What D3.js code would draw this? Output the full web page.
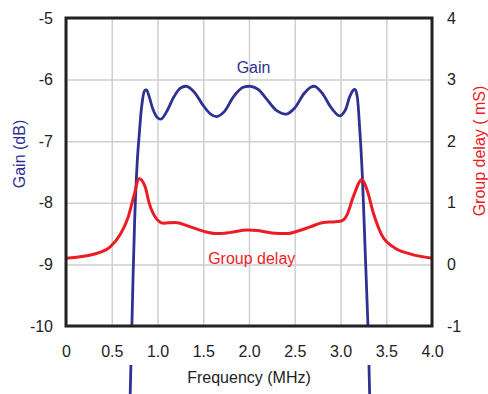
<!DOCTYPE html>
<html>
<head>
<meta charset="utf-8">
<script src="https://cdn.jsdelivr.net/npm/d3@7"></script>
<style>
  body { margin: 0; background: #fff; }
  svg { display: block; font-family: "Liberation Sans", Arial, sans-serif; }
</style>
</head>
<body>
<svg id="chart" width="488" height="394"></svg>
<script>
// gain curve (MHz, dB)
const gainFreq = [0.70, 0.72, 0.75, 0.78, 0.80, 0.83, 0.86, 0.88, 0.91, 0.95, 1.00, 1.04, 1.10, 1.18, 1.25, 1.32, 1.40, 1.50, 1.58, 1.65, 1.73, 1.83, 1.93, 2.02, 2.10, 2.20, 2.30, 2.41, 2.50, 2.60, 2.68, 2.72, 2.80, 2.90, 2.99, 3.05, 3.10, 3.14, 3.16, 3.18, 3.21, 3.24, 3.27, 3.30, 3.32];
const gainDb = [-11.2, -10.0, -8.3, -7.3, -6.9, -6.4, -6.18, -6.17, -6.28, -6.48, -6.62, -6.64, -6.52, -6.28, -6.14, -6.11, -6.2, -6.42, -6.56, -6.60, -6.52, -6.28, -6.13, -6.11, -6.16, -6.33, -6.50, -6.56, -6.46, -6.23, -6.12, -6.11, -6.22, -6.46, -6.59, -6.5, -6.28, -6.17, -6.16, -6.25, -6.8, -7.6, -8.8, -10.0, -11.2];

// group delay curve (MHz, mS)
const delayFreq = [0, 0.30, 0.48, 0.59, 0.68, 0.74, 0.80, 0.865, 0.91, 0.975, 1.065, 1.19, 1.34, 1.5, 1.65, 1.8, 1.98, 2.1, 2.25, 2.41, 2.55, 2.67, 2.815, 2.92, 3.0, 3.07, 3.14, 3.235, 3.29, 3.36, 3.45, 3.58, 3.76, 4.0];
const delayVal = [0.10, 0.165, 0.28, 0.48, 0.77, 1.10, 1.39, 1.26, 0.99, 0.77, 0.67, 0.68, 0.62, 0.54, 0.50, 0.52, 0.56, 0.55, 0.51, 0.50, 0.55, 0.61, 0.68, 0.69, 0.70, 0.80, 1.10, 1.38, 1.21, 0.83, 0.48, 0.28, 0.17, 0.10];

const xTicks = [0, 0.5, 1.0, 1.5, 2.0, 2.5, 3.0, 3.5, 4.0];
const gainTicks = [-10, -9, -8, -7, -6, -5];
const delayTicks = [-1, 0, 1, 2, 3, 4];

const blue = "#2e3192", red = "#ed1c24", ink = "#222";
const margin = { top: 18, right: 56, bottom: 68, left: 66 };
const width = 488 - margin.left - margin.right;
const height = 394 - margin.top - margin.bottom;

const svg = d3.select("#chart");
const g = svg.append("g").attr("transform", "translate(" + margin.left + "," + margin.top + ")");

const x = d3.scaleLinear().domain([0, 4]).range([0, width]);
const yGain = d3.scaleLinear().domain([-10, -5]).range([height, 0]);
const yDelay = d3.scaleLinear().domain([-1, 4]).range([height, 0]);

// grid
g.append("g")
  .call(d3.axisBottom(x).tickValues(xTicks).tickSize(-height).tickFormat(""))
  .attr("transform", "translate(0," + height + ")")
  .call(a => a.select(".domain").remove())
  .selectAll("line").attr("stroke", "#cfcfcf").attr("stroke-width", 1.5);
g.append("g")
  .call(d3.axisLeft(yGain).tickValues(gainTicks).tickSize(-width).tickFormat(""))
  .call(a => a.select(".domain").remove())
  .selectAll("line").attr("stroke", "#cfcfcf").attr("stroke-width", 1.5);

// clip: plot area plus the strip under the tick labels where the gain skirts show again
const defs = svg.append("defs");
const clip = defs.append("clipPath").attr("id", "gclip");
clip.append("rect").attr("x", 0).attr("y", 0).attr("width", width).attr("height", height);
clip.append("rect").attr("x", 0).attr("y", 347).attr("width", width).attr("height", 40);

const gainData = gainFreq.map((f, i) => [f, gainDb[i]]);
const delayData = delayFreq.map((f, i) => [f, delayVal[i]]);

g.append("path")
  .datum(gainData)
  .attr("clip-path", "url(#gclip)")
  .attr("fill", "none")
  .attr("stroke", blue)
  .attr("stroke-width", 2.8)
  .attr("d", d3.line().x(d => x(d[0])).y(d => yGain(d[1])).curve(d3.curveCatmullRom.alpha(0.5)));

g.append("path")
  .datum(delayData)
  .attr("fill", "none")
  .attr("stroke", red)
  .attr("stroke-width", 3)
  .attr("stroke-linejoin", "round")
  .attr("d", d3.line().x(d => x(d[0])).y(d => yDelay(d[1])).curve(d3.curveMonotoneX));

// frame
g.append("rect").attr("width", width).attr("height", height)
  .attr("fill", "none").attr("stroke", ink).attr("stroke-width", 3);

// tick labels
const xAxis = g.append("g").attr("transform", "translate(0," + height + ")")
  .call(d3.axisBottom(x).tickValues(xTicks).tickSize(0).tickPadding(20)
    .tickFormat(d => d === 0 ? "0" : d.toFixed(1)));
const lAxis = g.append("g")
  .call(d3.axisLeft(yGain).tickValues(gainTicks).tickSize(0).tickPadding(13).tickFormat(d => String(d)));
const rAxis = g.append("g").attr("transform", "translate(" + width + ",0)")
  .call(d3.axisRight(yDelay).tickValues(delayTicks).tickSize(0).tickPadding(15).tickFormat(d => String(d)));
[xAxis, lAxis, rAxis].forEach(a => {
  a.select(".domain").remove();
  a.selectAll("text").attr("font-size", 16).attr("fill", ink)
    .attr("font-family", "'Liberation Sans', Arial, sans-serif");
});

// axis titles
svg.append("text").attr("x", 249).attr("y", 383).attr("text-anchor", "middle")
  .attr("font-size", 16).attr("fill", ink).text("Frequency (MHz)");
svg.append("text").attr("transform", "translate(25,154) rotate(-90)").attr("text-anchor", "middle")
  .attr("font-size", 16).attr("fill", blue).text("Gain (dB)");
svg.append("text").attr("transform", "translate(485,151) rotate(-90)").attr("text-anchor", "middle")
  .attr("font-size", 16).attr("fill", red).text("Group delay ( mS)");

// series labels
g.append("text").attr("x", x(2.05)).attr("y", yGain(-5.89)).attr("text-anchor", "middle")
  .attr("font-size", 16).attr("fill", blue).text("Gain");
g.append("text").attr("x", x(2.03)).attr("y", yDelay(0.01)).attr("text-anchor", "middle")
  .attr("font-size", 16).attr("fill", red).text("Group delay");
</script>
</body>
</html>
